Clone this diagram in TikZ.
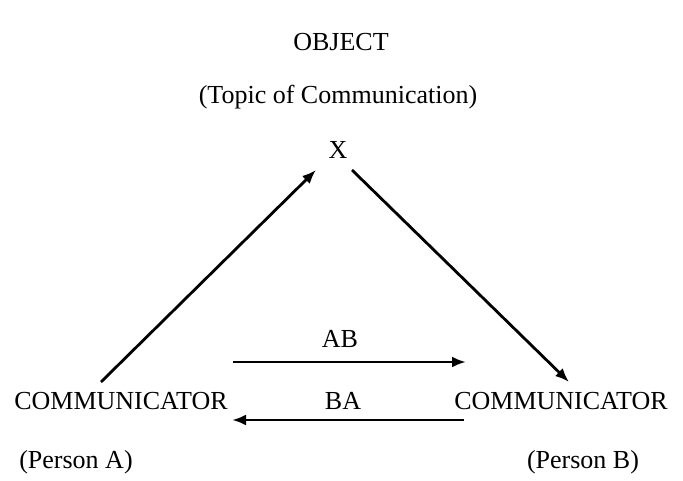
\documentclass[tikz,border=0pt]{standalone}
\usepackage{fontspec}
\setmainfont{Liberation Serif}
\usetikzlibrary{arrows.meta}
\begin{document}
\begin{tikzpicture}[x=1pt,y=-1pt,
  lbl/.style={inner sep=0pt,font=\fontsize{26}{30}\selectfont},
  arr/.style={line width=2.8pt,-{Latex[length=14pt,width=11pt]}}]
\useasboundingbox (0,0) rectangle (683,481);
\node[lbl] (obj) at (341,42) {OBJECT};
\node[lbl] (topic) at (338,97) {(Topic of Communication)};
\node[lbl] (x) at (338,150) {X};
\node[lbl] (ca) at (121,401) {COMMUNICATOR};
\node[lbl] (cb) at (561,401) {COMMUNICATOR};
\node[lbl] (pa) at (76,462) {(Person A)};
\node[lbl] (pb) at (583,462) {(Person B)};
\node[lbl] (ab) at (340,339) {AB};
\node[lbl] (ba) at (343,401) {BA};
\coordinate (a1) at (101,382);
\coordinate (a2) at (316,170);
\coordinate (b1) at (352,170);
\coordinate (b2) at (569,382);
\coordinate (ab1) at (233,362);
\coordinate (ab2) at (466,362);
\coordinate (ba1) at (464,420);
\coordinate (ba2) at (232,420);
\draw[arr] (a1) -- (a2);
\draw[arr] (b1) -- (b2);
\draw[arr] (ab1) -- (ab2);
\draw[arr] (ba1) -- (ba2);
\end{tikzpicture}
\end{document}
